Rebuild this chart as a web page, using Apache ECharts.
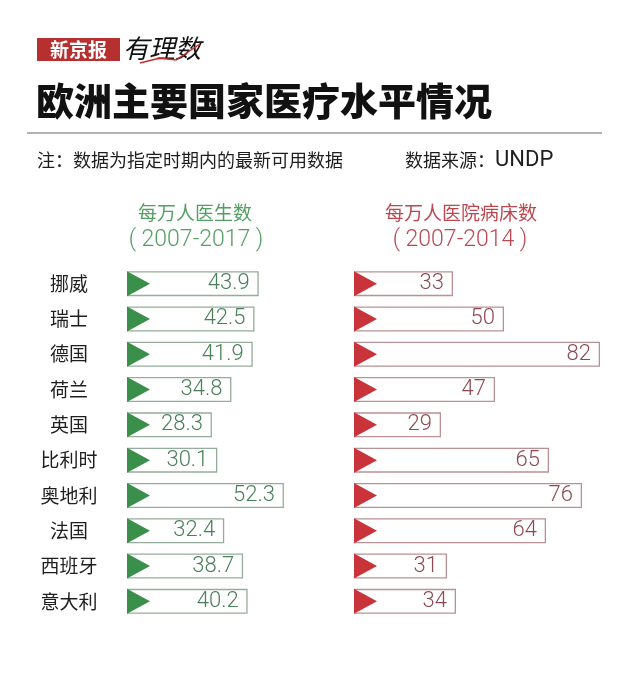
<!DOCTYPE html>
<html>
<head>
<meta charset="utf-8">
<script src="https://cdn.jsdelivr.net/npm/echarts@6/dist/echarts.min.js"></script>
<style>html,body{margin:0;padding:0;background:#fff}#c{width:640px;height:681px}</style>
</head>
<body>
<div id="c"></div>
<script>
const countries = ['挪威','瑞士','德国','荷兰','英国','比利时','奥地利','法国','西班牙','意大利'];
const doctors = [43.9, 42.5, 41.9, 34.8, 28.3, 30.1, 52.3, 32.4, 38.7, 40.2];
const beds = [33, 50, 82, 47, 29, 65, 76, 64, 31, 34];
const leftTitle = ['每万人医生数', '( 2007-2017 )'];
const rightTitle = ['每万人医院病床数', '( 2007-2014 )'];

const CJK = '"Noto Sans CJK SC", "Noto Sans", sans-serif';
const NUM = 'Roboto, "Liberation Sans", sans-serif';
const green = '#3a8f4b', greenText = '#4b7f59', greenBorder = '#95ad9a', greenHead = '#54a064';
const red = '#c9333a', redText = '#8d4a53', redBorder = '#b99197', redHead = '#bb4850';

const chart = echarts.init(document.getElementById('c'));
const tri = 'path://M0 0L1 0.5L0 1Z';

function barSeries(idx, data, border, txt) {
  return {
    type: 'bar', xAxisIndex: idx, yAxisIndex: idx, data: data, barWidth: 25,
    itemStyle: { color: '#fff', borderColor: border, borderWidth: 1.3 },
    label: { show: true, position: 'insideRight', distance: 9, color: txt,
      fontFamily: NUM, fontWeight: 300, fontSize: 22 },
    silent: true, z: 2
  };
}
function triSeries(idx, data, col) {
  return {
    type: 'scatter', xAxisIndex: idx, yAxisIndex: idx,
    data: data.map((v, i) => [0, i]),
    symbol: tri, symbolSize: [23, 25], symbolOffset: [11.5, 0],
    itemStyle: { color: col, opacity: 1 }, silent: true, z: 3
  };
}
const yCommon = {
  type: 'category', data: countries, inverse: true,
  axisLine: { show: false }, axisTick: { show: false }, splitLine: { show: false }
};

chart.setOption({
  backgroundColor: '#fff',
  animation: false,
  grid: [
    { left: 127, top: 266, width: 180, height: 353 },
    { left: 354, top: 266, width: 270, height: 353 }
  ],
  xAxis: [
    { gridIndex: 0, type: 'value', min: 0, max: 60, show: false },
    { gridIndex: 1, type: 'value', min: 0, max: 90, show: false }
  ],
  yAxis: [
    Object.assign({ gridIndex: 0, axisLabel: { align: 'center', margin: 58, fontSize: 19, color: '#1e1e1e', fontFamily: CJK } }, yCommon),
    Object.assign({ gridIndex: 1, axisLabel: { show: false } }, yCommon)
  ],
  series: [
    barSeries(0, doctors, greenBorder, greenText),
    triSeries(0, doctors, green),
    barSeries(1, beds, redBorder, redText),
    triSeries(1, beds, red)
  ],
  graphic: [
    { type: 'rect', shape: { x: 37, y: 38, width: 83, height: 23 }, style: { fill: '#b5302e' } },
    { type: 'text', x: 78.5, y: 50, style: { text: '新京报', fill: '#fff', font: 'bold 19px ' + CJK, textAlign: 'center', textVerticalAlign: 'middle' } },
    { type: 'text', x: 123, y: 48, style: { text: '有理数', fill: '#111', font: 'italic 26px ' + CJK, textAlign: 'left', textVerticalAlign: 'middle' } },
    { type: 'polyline', shape: { points: [[140, 63], [160, 58], [176, 60], [200, 44]] }, style: { stroke: '#c0302e', lineWidth: 1.5, fill: null } },
    { type: 'text', x: 36, y: 101, style: { text: '欧洲主要国家医疗水平情况', fill: '#111', font: '900 38px ' + CJK, textAlign: 'left', textVerticalAlign: 'middle' } },
    { type: 'line', shape: { x1: 27, y1: 133, x2: 602, y2: 133 }, style: { stroke: '#9a9a9a', lineWidth: 1.5 } },
    { type: 'text', x: 37, y: 160, style: { text: '注：数据为指定时期内的最新可用数据', fill: '#1e1e1e', font: '18px ' + CJK, textAlign: 'left', textVerticalAlign: 'middle' } },
    { type: 'text', x: 405, y: 160, style: { text: '{a|数据来源：}{b|UNDP}', fill: '#1e1e1e', textAlign: 'left', textVerticalAlign: 'middle',
        rich: { a: { fontFamily: CJK, fontSize: 18, fill: '#1e1e1e' }, b: { fontFamily: NUM, fontSize: 22, fill: '#1e1e1e' } } } },
    { type: 'text', x: 195, y: 213, style: { text: leftTitle[0], fill: greenHead, font: '19px ' + CJK, textAlign: 'center', textVerticalAlign: 'middle' } },
    { type: 'text', x: 196, y: 240, style: { text: leftTitle[1], fill: greenHead, font: '300 23px ' + NUM, textAlign: 'center', textVerticalAlign: 'middle' } },
    { type: 'text', x: 461, y: 213, style: { text: rightTitle[0], fill: redHead, font: '19px ' + CJK, textAlign: 'center', textVerticalAlign: 'middle' } },
    { type: 'text', x: 460, y: 240, style: { text: rightTitle[1], fill: redHead, font: '300 23px ' + NUM, textAlign: 'center', textVerticalAlign: 'middle' } }
  ]
});
</script>
</body>
</html>
